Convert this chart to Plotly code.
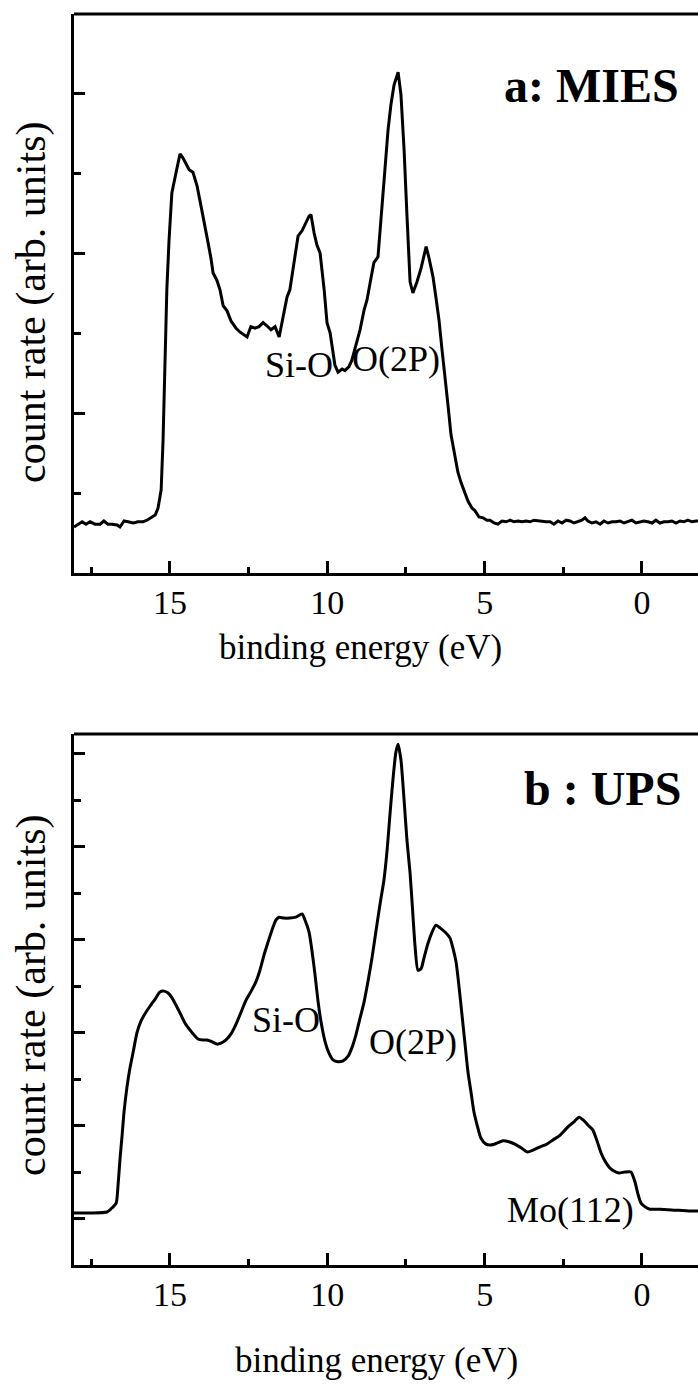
import plotly.graph_objects as go

# ---------------- data ----------------
# panel a: MIES  (binding energy eV, count rate arb. units)
mies_e = [18.05, 17.92, 17.79, 17.67, 17.54, 17.38, 17.22, 17.10, 16.97, 16.84, 16.68, 16.59,
          16.46, 16.33, 16.17, 16.02, 15.86, 15.73, 15.60, 15.47, 15.38, 15.28, 15.22, 15.16,
          15.10, 15.03, 14.94, 14.81, 14.68, 14.59, 14.49, 14.39, 14.27, 14.14, 14.01, 13.89,
          13.79, 13.70, 13.63, 13.51, 13.41, 13.31, 13.19, 13.06, 12.90, 12.77, 12.65, 12.55,
          12.43, 12.30, 12.17, 12.04, 11.92, 11.79, 11.66, 11.53, 11.41, 11.28, 11.19, 11.06,
          10.93, 10.80, 10.68, 10.58, 10.52, 10.42, 10.33, 10.23, 10.10, 10.01, 9.91, 9.82,
          9.76, 9.66, 9.53, 9.44, 9.31, 9.22, 9.09, 8.96, 8.83, 8.74, 8.61, 8.52, 8.39, 8.29,
          8.17, 8.07, 7.98, 7.88, 7.75, 7.66, 7.56, 7.47, 7.37, 7.28, 7.15, 7.02, 6.93, 6.86,
          6.77, 6.64, 6.55, 6.45, 6.36, 6.26, 6.16, 6.07, 5.94, 5.85, 5.75, 5.62, 5.53, 5.40,
          5.31, 5.18, 5.05, 4.93, 4.83, 4.70, 4.58, 4.45, 4.32, 4.19, 4.07, 3.94, 3.81, 3.69,
          3.56, 3.43, 3.30, 3.18, 3.05, 2.92, 2.80, 2.67, 2.54, 2.41, 2.29, 2.16, 2.03, 1.91,
          1.81, 1.72, 1.59, 1.46, 1.33, 1.21, 1.08, 0.95, 0.83, 0.70, 0.57, 0.44, 0.32, 0.19,
          0.06, -0.06, -0.19, -0.32, -0.44, -0.57, -0.70, -0.83, -0.95, -1.08, -1.21, -1.33,
          -1.46, -1.59, -1.72, -1.78]
mies_counts = [0.575, 0.61, 0.64, 0.61, 0.64, 0.61, 0.61, 0.65, 0.61, 0.61, 0.60, 0.575,
               0.65, 0.64, 0.625, 0.64, 0.64, 0.66, 0.69, 0.725, 0.81, 1.04, 1.66, 2.66,
               3.54, 4.16, 4.75, 5.00, 5.24, 5.19, 5.11, 5.04, 5.01, 4.84, 4.58, 4.31,
               4.13, 3.94, 3.75, 3.66, 3.54, 3.34, 3.28, 3.15, 3.06, 3.01, 2.98, 2.95,
               3.08, 3.06, 3.08, 3.13, 3.09, 3.04, 3.08, 2.95, 3.19, 3.45, 3.54, 3.89,
               4.21, 4.28, 4.39, 4.46, 4.48, 4.25, 4.10, 4.00, 3.54, 3.13, 3.00, 2.79,
               2.60, 2.51, 2.55, 2.53, 2.58, 2.66, 2.85, 3.04, 3.29, 3.41, 3.69, 3.88, 3.95, 4.41,
               5.04, 5.54, 5.85, 6.10, 6.26, 5.98, 5.29, 4.48, 3.64, 3.50, 3.64, 3.81, 3.98, 4.08,
               3.94, 3.70, 3.45, 3.16, 2.81, 2.48, 2.08, 1.73, 1.45, 1.26, 1.13, 0.98, 0.90, 0.81,
               0.78, 0.70, 0.69, 0.66, 0.66, 0.625, 0.61, 0.65, 0.64, 0.66, 0.64, 0.65, 0.64, 0.65,
               0.64, 0.66, 0.65, 0.65, 0.64, 0.64, 0.61, 0.65, 0.625, 0.66, 0.65, 0.625, 0.64, 0.66,
               0.69, 0.65, 0.625, 0.64, 0.61, 0.65, 0.625, 0.64, 0.64, 0.65, 0.625, 0.64, 0.66, 0.625,
               0.64, 0.65, 0.64, 0.625, 0.66, 0.625, 0.64, 0.64, 0.65, 0.625, 0.65, 0.64,
               0.66, 0.64, 0.65, 0.65]

# panel b: UPS
ups_e = [18.05, 17.54, 17.00, 16.84, 16.71, 16.65, 16.59, 16.52, 16.46, 16.37, 16.27, 16.17,
         16.05, 15.92, 15.76, 15.63, 15.47, 15.32, 15.19, 15.06, 14.93, 14.81, 14.65, 14.52,
         14.36, 14.24, 14.11, 13.95, 13.82, 13.66, 13.50, 13.38, 13.22, 13.06, 12.90, 12.74,
         12.58, 12.42, 12.27, 12.14, 12.01, 11.88, 11.76, 11.63, 11.53, 11.38, 11.19, 11.00,
         10.80, 10.71, 10.58, 10.49, 10.39, 10.30, 10.20, 10.07, 9.95, 9.82, 9.66, 9.50,
         9.34, 9.22, 9.09, 8.96, 8.83, 8.71, 8.58, 8.45, 8.32, 8.20, 8.10, 8.01, 7.91, 7.82,
         7.75, 7.66, 7.56, 7.47, 7.37, 7.28, 7.21, 7.12, 7.02, 6.93, 6.80, 6.67, 6.55, 6.42,
         6.26, 6.10, 6.01, 5.91, 5.82, 5.72, 5.62, 5.53, 5.43, 5.34, 5.24, 5.12, 4.96, 4.80,
         4.61, 4.42, 4.23, 4.04, 3.84, 3.65, 3.46, 3.24, 3.02, 2.83, 2.64, 2.48, 2.32, 2.16,
         2.00, 1.87, 1.72, 1.56, 1.43, 1.30, 1.18, 1.05, 0.89, 0.73, 0.54, 0.35, 0.22, 0.13,
         0.03, -0.10, -0.25, -0.57, -1.05, -1.53, -1.78]
ups_counts = [1.12, 1.12, 1.14, 1.23, 1.33, 1.72, 2.26, 2.80, 3.29, 3.81, 4.24, 4.58,
              4.99, 5.25, 5.44, 5.57, 5.72, 5.87, 5.89, 5.85, 5.74, 5.59, 5.38, 5.20,
              5.05, 4.95, 4.86, 4.84, 4.84, 4.80, 4.75, 4.77, 4.84, 4.97, 5.18, 5.44,
              5.70, 5.89, 6.09, 6.34, 6.67, 6.95, 7.20, 7.42, 7.48, 7.46, 7.46, 7.48,
              7.55, 7.42, 7.16, 6.77, 6.24, 5.70, 5.23, 4.80, 4.56, 4.41, 4.37, 4.39,
              4.49, 4.67, 4.95, 5.31, 5.66, 6.09, 6.60, 7.20, 7.78, 8.28, 8.92, 9.68, 10.47, 11.03,
              11.20, 10.86, 10.00, 9.14, 8.43, 7.53, 6.84, 6.34, 6.37, 6.60, 6.92, 7.16, 7.31, 7.25,
              7.16, 7.03, 6.82, 6.52, 6.02, 5.38, 4.73, 4.15, 3.70, 3.29, 3.01, 2.73, 2.60, 2.58,
              2.62, 2.67, 2.65, 2.60, 2.52, 2.43, 2.47, 2.54, 2.60, 2.69, 2.77, 2.88, 2.99, 3.08,
              3.18, 3.12, 3.01, 2.90, 2.67, 2.41, 2.24, 2.11, 2.02, 1.98, 2.00, 2.00, 1.78, 1.53,
              1.33, 1.25, 1.20, 1.20, 1.18, 1.16, 1.16]

x_tick_vals = [15, 10, 5, 0]
x_tick_text = ["15", "10", "5", "0"]
panel_titles = ["a: MIES", "b : UPS"]
x_title = "binding energy (eV)"
y_title = "count rate (arb. units)"

# ---------------- layout geometry (pixels) ----------------
W, H = 698, 1385
FONT = "Liberation Serif, Times New Roman, serif"
X_LEFT = 74
TOP_A, BOT_A = 14, 573
TOP_B, BOT_B = 734, 1265


def px(x):
    return x / W


def py(y):
    return 1 - y / H


fig = go.Figure()
fig.add_trace(go.Scatter(x=mies_e, y=mies_counts, mode="lines",
                         line=dict(color="black", width=3, shape="linear"),
                         xaxis="x", yaxis="y", showlegend=False))
fig.add_trace(go.Scatter(x=ups_e, y=ups_counts, mode="lines",
                         line=dict(color="black", width=3, shape="spline", smoothing=0.6),
                         xaxis="x2", yaxis="y2", showlegend=False))

xcommon = dict(range=[18.05, -1.78], showline=True, linecolor="black", linewidth=3,
               ticks="inside", ticklen=12, tickwidth=2.5, tickcolor="black",
               tickmode="array", tickvals=x_tick_vals, ticktext=x_tick_text,
               minor=dict(ticks="inside", ticklen=6, tickwidth=2.5, tickcolor="black",
                          tickmode="array", tickvals=[17.5, 12.5, 7.5, 2.5]),
               showgrid=False, zeroline=False, automargin=False,
               ticklabelstandoff=-3,
               tickfont=dict(family=FONT, size=34, color="black"),
               domain=[px(X_LEFT), 1])
ycommon = dict(showline=True, linecolor="black", linewidth=3,
               ticks="inside", ticklen=11, tickwidth=2.5, tickcolor="black",
               showticklabels=False, showgrid=False, zeroline=False, automargin=False,
               tickmode="linear", dtick=2)

fig.update_layout(
    width=W, height=H, margin=dict(l=0, r=0, t=0, b=0),
    template="none", paper_bgcolor="white", plot_bgcolor="white",
    showlegend=False,
    xaxis=dict(**xcommon, anchor="y"),
    xaxis2=dict(**xcommon, anchor="y2"),
    yaxis=dict(**ycommon, anchor="x", tick0=0, range=[0, (BOT_A - TOP_A) / 80],
               domain=[py(BOT_A), py(TOP_A)],
               minor=dict(ticks="inside", ticklen=7, tickwidth=2.5, tickcolor="black", dtick=1)),
    yaxis2=dict(**ycommon, anchor="x2", tick0=1, range=[0, (BOT_B - TOP_B) / 46.5],
                domain=[py(BOT_B), py(TOP_B)],
                minor=dict(ticks="inside", ticklen=7, tickwidth=2.5, tickcolor="black", dtick=1)),
)

# top frame borders
for yy in (TOP_A, TOP_B):
    fig.add_shape(type="line", xref="paper", yref="paper", x0=px(X_LEFT), x1=1,
                  y0=py(yy), y1=py(yy), line=dict(color="black", width=3))


def ann(text, x, y, size, bold=False, angle=0):
    fig.add_annotation(text=f"<b>{text}</b>" if bold else text,
                       xref="paper", yref="paper", x=px(x), y=py(y),
                       xanchor="center", yanchor="middle", showarrow=False,
                       textangle=angle, font=dict(family=FONT, size=size, color="black"))


ann(panel_titles[0], 591, 86, 48, bold=True)
ann(panel_titles[1], 602, 788, 48, bold=True)
ann(x_title, 360, 647, 35)
ann(x_title, 376, 1360, 35)
ann(y_title, 31, 302, 42, angle=-90)
ann(y_title, 31, 995, 42, angle=-90)
ann("Si-O", 299, 365, 36)
ann("O(2P)", 396, 359, 36)
ann("Si-O", 286, 1020, 36)
ann("O(2P)", 413, 1042, 36)
ann("Mo(112)", 570, 1210, 36)

fig.write_html("out.html")
